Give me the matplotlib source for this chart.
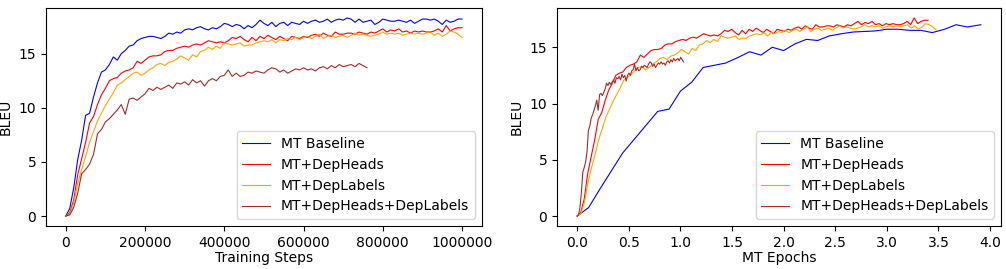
import numpy as np
import matplotlib
matplotlib.use("Agg")
import matplotlib.pyplot as plt

# ============================================================
# Data (BLEU, evaluated every 10000 steps)
# ============================================================
labels = ["MT Baseline", "MT+DepHeads", "MT+DepLabels", "MT+DepHeads+DepLabels"]
colors = ["blue", "red", "orange", "brown"]

step_size = 10000

bleu_baseline = [
    0, 0.7, 2.6, 5.2, 7.0, 9.3, 9.5, 11.0, 12.3, 13.3,
    13.5, 14.0, 14.7, 14.4, 15.0, 15.3, 15.7, 15.8, 16.2, 16.4,
    16.5, 16.6, 16.6, 16.5, 16.4, 16.6, 16.9, 16.8, 17.0, 16.9,
    17.2, 17.3, 17.2, 17.4, 17.5, 17.3, 17.2, 17.4, 17.3, 17.5,
    17.8, 17.7, 17.5, 17.7, 17.6, 17.3, 17.6, 17.4, 17.7, 18.1,
    17.8, 17.6, 17.9, 17.5, 17.8, 17.9, 17.6, 17.9, 17.8, 17.7,
    18.0, 17.8, 18.0, 18.1, 17.9, 18.0, 18.2, 17.9, 18.1, 18.2,
    18.1, 18.3, 18.2, 17.9, 18.2, 17.9, 18.0, 18.1, 17.7, 17.9,
    18.2, 18.1, 18.0, 18.0, 18.1, 18.0, 17.9, 18.1, 17.8, 18.0,
    18.2, 18.2, 18.1, 18.2, 18.0, 17.7, 18.1, 17.9, 18.0, 18.2,
    18.2,
]

bleu_heads = [
    0, 0.3, 1.5, 3.8, 5.3, 6.8, 8.6, 9.2, 10.3, 11.2,
    11.8, 12.5, 12.7, 12.8, 13.2, 13.4, 13.5, 13.7, 14.3, 14.1,
    14.4, 14.7, 14.8, 14.8, 14.9, 15.2, 15.3, 15.3, 15.5, 15.6,
    15.7, 15.6, 15.8, 15.9, 15.8, 16.0, 16.2, 16.1, 16.0, 16.1,
    16.0, 16.2, 16.5, 16.4, 16.6, 16.3, 16.1, 16.5, 16.2, 16.6,
    16.4, 16.7, 16.5, 16.3, 16.6, 16.4, 16.2, 16.6, 16.5, 16.4,
    16.6, 16.5, 16.7, 16.8, 16.6, 16.9, 16.7, 16.6, 17.0, 16.8,
    16.8, 16.9, 16.9, 16.8, 17.0, 16.9, 16.8, 17.0, 16.9, 17.1,
    17.3, 17.0, 17.2, 17.1, 17.3, 17.0, 17.1, 16.9, 17.1, 17.0,
    17.1, 17.0, 17.0, 17.1, 17.3, 17.0, 17.6, 17.1, 17.3, 17.4,
    17.4,
]

bleu_labels = [
    0, 0.2, 1.2, 3.0, 4.3, 5.5, 6.8, 7.8, 8.8, 9.5,
    10.2, 10.8, 11.4, 12.1, 12.3, 12.6, 12.9, 13.2, 13.3, 13.0,
    13.2, 13.5, 13.7, 14.0, 14.1, 13.9, 14.2, 14.3, 14.5, 14.8,
    14.6, 14.4, 14.9, 14.7, 15.2, 15.3, 15.6, 15.4, 15.7, 15.5,
    16.0, 15.9, 15.8, 15.9, 16.0, 15.7, 15.8, 15.8, 16.0, 16.1,
    16.2, 16.1, 16.3, 16.0, 16.3, 16.2, 16.4, 16.3, 16.5, 16.3,
    16.5, 16.6, 16.4, 16.6, 16.8, 16.4, 16.6, 16.7, 16.5, 16.6,
    16.7, 16.5, 16.7, 16.9, 16.7, 16.8, 16.7, 16.6, 16.7, 16.8,
    17.0, 16.8, 16.9, 16.8, 16.9, 16.7, 16.8, 16.9, 16.8, 16.9,
    16.8, 16.9, 17.0, 16.7, 16.9, 16.6, 16.8, 17.1, 17.0, 16.8,
    16.5,
]

bleu_heads_labels = [
    0, 0.1, 0.8, 2.1, 3.9, 4.3, 4.8, 5.7, 7.6, 8.0,
    8.7, 9.0, 9.4, 9.8, 10.3, 9.4, 10.8, 10.9, 10.7, 11.0,
    11.3, 11.8, 11.6, 11.9, 11.7, 11.9, 12.1, 11.8, 12.3, 12.2,
    12.4, 12.1, 12.6, 12.3, 12.5, 12.0, 12.5, 12.7, 12.5, 12.9,
    13.0, 13.5, 12.9, 13.2, 12.9, 13.0, 13.3, 13.2, 13.4, 13.3,
    13.2, 13.5, 13.7, 13.6, 13.3, 13.5, 13.2, 13.4, 13.6, 13.5,
    13.7, 13.5, 13.6, 13.4, 13.7, 13.8, 13.6, 13.9, 13.7, 14.0,
    13.8, 13.9, 14.0, 13.8, 14.1, 13.9, 13.7,
]

# epochs covered by one evaluation interval (right panel)
epochs_per_step = {"MT+DepHeads": 3.40e-6, "MT+DepLabels": 3.48e-6,
                   "MT+DepHeads+DepLabels": 1.355e-6}

# baseline on the epoch axis is logged much more sparsely
baseline_epochs = [
    0.0, 0.11, 0.22, 0.33, 0.44, 0.56, 0.67, 0.78, 0.89, 1.0,
    1.11, 1.22, 1.33, 1.44, 1.56, 1.67, 1.78, 1.89, 2.0, 2.11,
    2.22, 2.33, 2.44, 2.56, 2.67, 2.78, 2.89, 3.0, 3.11, 3.22,
    3.33, 3.44, 3.56, 3.67, 3.78, 3.91,
]
baseline_epoch_bleu = [
    0, 0.75, 2.4, 4.0, 5.6, 6.9, 8.1, 9.3, 9.5, 11.1,
    11.9, 13.2, 13.4, 13.6, 14.1, 14.6, 14.3, 15.0, 14.7, 15.3,
    15.7, 15.6, 16.0, 16.2, 16.35, 16.4, 16.45, 16.6, 16.6, 16.5,
    16.5, 16.3, 16.6, 17.0, 16.8, 17.0,
]

# ============================================================
series = [bleu_baseline, bleu_heads, bleu_labels, bleu_heads_labels]

fig = plt.figure(figsize=(10.06, 2.69), dpi=100)
ax1 = fig.add_axes([0.0457, 0.160, 0.4333, 0.810])
ax2 = fig.add_axes([0.5537, 0.160, 0.4413, 0.810])

lw = 0.8

# Left: BLEU vs training steps
for name, col, vals in zip(labels, colors, series):
    steps = np.arange(len(vals)) * step_size
    ax1.plot(steps, vals, color=col, lw=lw, label=name)
ax1.set_xlabel("Training Steps", fontsize=10, labelpad=1)
ax1.set_ylabel("BLEU", fontsize=10)
ax1.set_xticks([0, 200000, 400000, 600000, 800000, 1000000])
ax1.ticklabel_format(axis="x", style="plain", useOffset=False)
ax1.set_yticks([0, 5, 10, 15])
ax1.legend(loc="lower right", fontsize=10, handlelength=2.0)

# Right: BLEU vs MT epochs
ax2.plot(baseline_epochs, baseline_epoch_bleu, color=colors[0], lw=lw, label=labels[0])
for name, col, vals in zip(labels[1:], colors[1:], series[1:]):
    epochs = np.arange(len(vals)) * step_size * epochs_per_step[name]
    ax2.plot(epochs, vals, color=col, lw=lw, label=name)
ax2.set_xlabel("MT Epochs", fontsize=10, labelpad=1)
ax2.set_ylabel("BLEU", fontsize=10)
ax2.set_xticks(np.arange(0, 4.01, 0.5))
ax2.set_yticks([0, 5, 10, 15])
ax2.legend(loc="lower right", fontsize=10, handlelength=2.0)

for ax in (ax1, ax2):
    ax.tick_params(labelsize=10)

plt.savefig("out.png", dpi=100)
